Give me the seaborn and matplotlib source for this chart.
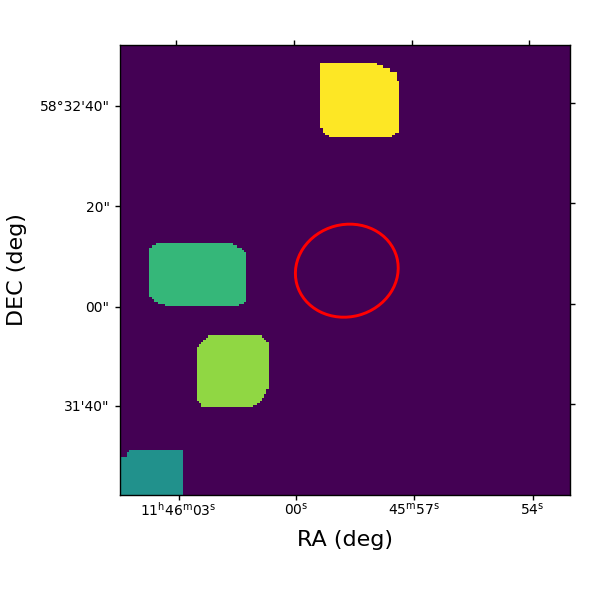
import numpy as np
import matplotlib
matplotlib.use("Agg")
import matplotlib.pyplot as plt
import seaborn as sns
from matplotlib.path import Path
from matplotlib.patches import Ellipse

GRID_SIZE = 200

# Segmentation regions: outline in image cells (x, y from the top-left), and label
label_yellow = 6
outline_yellow = [(88.9, 8.9), (89.8, 8.2), (114.1, 8.2), (114.1, 8.6), (117.3, 8.6), (117.3, 9.8),
                  (120.4, 9.8), (120.4, 11.9), (123.2, 11.9), (123.2, 16.0), (124.2, 16.0),
                  (124.2, 38.7), (122.7, 39.1), (120.9, 40.9), (119.6, 41.3),
                  (94.2, 41.3), (90.2, 38.7), (88.9, 36.4)]
label_green = 4
outline_green = [(13.1, 89.8), (16.9, 87.8), (48.0, 87.8), (52.0, 89.3), (55.6, 92.0), (55.6, 113.8),
                 (52.4, 116.2), (22.2, 116.2), (16.9, 114.7), (13.1, 111.6)]
label_lime = 5
outline_lime = [(34.4, 134.2), (39.1, 129.0), (63.1, 129.0), (65.6, 132.4), (65.6, 153.3), (62.2, 158.7),
                (58.7, 160.6), (36.4, 160.6), (34.4, 157.8)]
label_teal = 3
outline_teal = [(-1, 182.7), (3.1, 182.7), (3.1, 180.9), (5.3, 179.7), (27.1, 179.7), (28.3, 181.8),
                (28.3, 201), (-1, 201)]

aperture_center = (100.8, 100.3)
aperture_width = 46.0
aperture_height = 41.0
aperture_angle = -15

xticks_bottom = [26.1, 78.2, 130.7, 183.4]
xticks_top = [25.0, 77.5, 129.6, 181.9]
yticks_left = [27.1, 71.6, 116.3, 160.4]
yticks_right = [25.9, 70.2, 115.1, 159.6]
xticklabels = [r"$11^{\mathrm{h}}46^{\mathrm{m}}03^{\mathrm{s}}$", r"$00^{\mathrm{s}}$",
               r"$45^{\mathrm{m}}57^{\mathrm{s}}$", r"$54^{\mathrm{s}}$"]
yticklabels = ["58°32'40\"", "20\"", "00\"", "31'40\""]

yy, xx = np.mgrid[0:GRID_SIZE, 0:GRID_SIZE]
centers = np.column_stack([xx.ravel() + 0.5, yy.ravel() + 0.5])
segm = np.zeros((GRID_SIZE, GRID_SIZE), dtype=int)
for outline, label in [(outline_yellow, label_yellow), (outline_green, label_green),
                       (outline_lime, label_lime), (outline_teal, label_teal)]:
    mask = Path(outline).contains_points(centers).reshape(segm.shape)
    segm[mask] = label

fig = plt.figure(figsize=(6, 6), dpi=100)
ax = fig.add_axes([0.2, 0.175, 0.75, 0.75])
sns.heatmap(segm, ax=ax, cmap="viridis", vmin=0, vmax=6, cbar=False, square=False,
            xticklabels=False, yticklabels=False, linewidths=0, rasterized=True)
for s in ax.spines.values():
    s.set_visible(True)
    s.set_linewidth(1.0)
    s.set_zorder(5)

ax.add_patch(Ellipse(aperture_center, aperture_width, aperture_height, angle=aperture_angle,
                     fill=False, edgecolor="red", linewidth=2.1))

ax.set_xticks(xticks_bottom, labels=xticklabels)
ax.set_yticks(yticks_left, labels=yticklabels)
ax.tick_params(axis="both", length=3.5, width=1, labelsize=10, rotation=0)
ax.tick_params(axis="x", pad=1)
ax.tick_params(axis="y", pad=4)

top = ax.secondary_xaxis("top")
top.set_xticks(xticks_top, labels=[])
top.tick_params(length=3.5, width=1)
right = ax.secondary_yaxis("right")
right.set_yticks(yticks_right, labels=[])
right.tick_params(length=3.5, width=1)
top.spines["top"].set_visible(False)
right.spines["right"].set_visible(False)

ax.set_xlabel("RA (deg)", fontsize=16, labelpad=7.6)
ax.set_ylabel("DEC (deg)", fontsize=16, labelpad=9)

fig.savefig("out.png", dpi=100)
